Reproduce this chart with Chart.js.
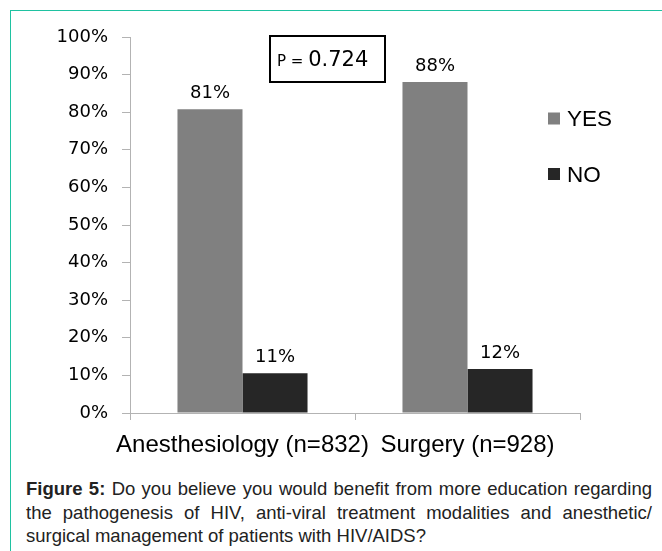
<!DOCTYPE html>
<html>
<head>
<meta charset="utf-8">
<script src="https://cdn.jsdelivr.net/npm/chart.js@4.4.0/dist/chart.umd.min.js"></script>
<style>
  html, body { margin: 0; padding: 0; background: #fff; }
  body { width: 662px; height: 551px; position: relative; overflow: hidden; }
  #frame { position: absolute; left: 10px; top: 10px; width: 700px; height: 600px;
           border-left: 1px solid #1fc2a1; border-top: 1px solid #1fc2a1; }
  #chartBox { position: absolute; left: 0; top: 0; width: 662px; height: 470px; }
  #caption { position: absolute; left: 26px; width: 626px; top: 477px;
             font-family: "Liberation Sans", Arial, sans-serif;
             font-size: 18.5px; line-height: 23.5px; color: #222; text-align: justify; }
</style>
</head>
<body>
<div id="frame"></div>
<div id="chartBox"><canvas id="chart" width="662" height="470"></canvas></div>
<div id="caption"><b>Figure 5:</b> Do you believe you would benefit from more education regarding the pathogenesis of HIV, anti-viral treatment modalities and anesthetic/ surgical management of patients with HIV/AIDS?</div>
<script>
const categories = ["Anesthesiology (n=832)", "Surgery (n=928)"];
const yesValues = [80.8, 88.0];
const noValues = [10.6, 11.7];
const seriesNames = ["YES", "NO"];
const pValue = "0.724";

// % label over each bar
const barLabels = {
  id: "barLabels",
  afterDatasetsDraw(chart) {
    const ctx = chart.ctx;
    ctx.save();
    ctx.font = '18px "DejaVu Sans"';
    ctx.fillStyle = "#000";
    ctx.textAlign = "center";
    ctx.textBaseline = "alphabetic";
    chart.data.datasets.forEach((ds, i) => {
      chart.getDatasetMeta(i).data.forEach((bar, j) => {
        ctx.fillText(Math.round(ds.data[j]) + "%", bar.x, bar.y - 11);
      });
    });
    ctx.restore();
  }
};

// legend sits inside the plot, to the right
const sideLegend = {
  id: "sideLegend",
  afterDraw(chart) {
    const { ctx, chartArea } = chart;
    const x = chartArea.right - 32;
    let y = chartArea.top + 81.5;
    ctx.save();
    ctx.font = '22.5px "Liberation Sans"';
    ctx.textBaseline = "alphabetic";
    chart.data.datasets.forEach(ds => {
      ctx.fillStyle = ds.backgroundColor;
      ctx.fillRect(x, y - 6, 12, 12);
      ctx.fillStyle = "#000";
      ctx.fillText(ds.label, x + 19, y + 7.5);
      y += 55.5;
    });
    ctx.restore();
  }
};

const pBox = {
  id: "pBox",
  afterDraw(chart) {
    const { ctx, chartArea } = chart;
    const left = chartArea.left + 140, top = chartArea.top - 1;
    ctx.save();
    ctx.lineWidth = 2;
    ctx.strokeStyle = "#000";
    ctx.strokeRect(left, top, 115, 46);
    ctx.fillStyle = "#000";
    ctx.textBaseline = "alphabetic";
    ctx.font = '15px "DejaVu Sans"';
    ctx.fillText("P = ", left + 7, top + 30);
    const w = ctx.measureText("P = ").width;
    ctx.font = '21px "DejaVu Sans"';
    ctx.fillText(pValue, left + 7 + w, top + 30);
    ctx.restore();
  }
};

new Chart(document.getElementById("chart"), {
  type: "bar",
  data: {
    labels: categories,
    datasets: [
      { label: seriesNames[0], data: yesValues, backgroundColor: "#808080" },
      { label: seriesNames[1], data: noValues, backgroundColor: "#262626" }
    ]
  },
  options: {
    responsive: false,
    animation: false,
    devicePixelRatio: 1,
    categoryPercentage: 0.578,
    barPercentage: 1,
    layout: { padding: { top: 37, right: 82, bottom: 7, left: 0 } },
    plugins: { legend: { display: false }, tooltip: { enabled: false } },
    scales: {
      x: {
        offset: true,
        grid: { offset: true, drawOnChartArea: false, tickLength: 7, color: "#b3b3b3" },
        border: { color: "#b3b3b3" },
        ticks: { font: { family: "Liberation Sans", size: 24 }, color: "#000", padding: 11,
                 maxRotation: 0, autoSkip: false },
        afterFit(s) { s.height = 50; }
      },
      y: {
        min: 0,
        max: 100,
        ticks: { stepSize: 10, callback: v => v + "%", font: { family: "DejaVu Sans", size: 18 },
                 color: "#000", padding: 14 },
        grid: { drawOnChartArea: false, tickLength: 8, color: "#b3b3b3" },
        border: { color: "#b3b3b3" },
        afterFit(s) { s.width = 130; }
      }
    }
  },
  plugins: [barLabels, sideLegend, pBox]
});
</script>
</body>
</html>
